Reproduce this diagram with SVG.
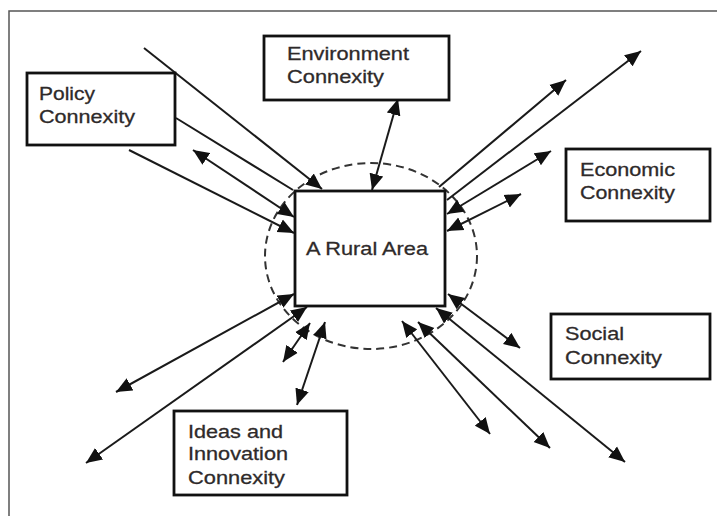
<svg xmlns="http://www.w3.org/2000/svg" width="717" height="516" viewBox="0 0 717 516">
<style>
.box{fill:#fff;stroke:#111;stroke-width:2.8}
.lbl{font-family:"Liberation Sans",Arial,sans-serif;font-size:19px;fill:#2e2a2a;stroke:#2e2a2a;stroke-width:0.3}
.c{stroke:#1a1a1a;stroke-width:2;fill:none}
.s{marker-end:url(#ah)}
.d{marker-end:url(#ah);marker-start:url(#ah)}
</style>
<defs>
<marker id="ah" markerUnits="userSpaceOnUse" markerWidth="17" markerHeight="15" refX="16" refY="7" orient="auto-start-reverse" viewBox="0 0 17 14">
<path d="M0,0 L16,7 L0,14 Z" fill="#111"/>
</marker>
</defs>
<rect width="717" height="516" fill="#fff"/>
<rect x="9" y="11" width="730" height="530" fill="none" stroke="#555" stroke-width="1.5"/>
<ellipse cx="371" cy="256" rx="106" ry="93" fill="none" stroke="#333" stroke-width="2" stroke-dasharray="8 5"/>
<g id="connectors">
<line class="c s" x1="144" y1="48" x2="322" y2="189"/>
<line class="c" x1="176" y1="118" x2="293" y2="190"/>
<line class="c d" x1="193" y1="150" x2="294" y2="217"/>
<line class="c s" x1="129" y1="150" x2="294" y2="233"/>
<line class="c d" x1="398" y1="99" x2="372" y2="190"/>
<line class="c s" x1="439" y1="187" x2="566" y2="80"/>
<line class="c s" x1="447" y1="200" x2="641" y2="51"/>
<line class="c d" x1="447" y1="214" x2="551" y2="151"/>
<line class="c d" x1="447" y1="231" x2="521" y2="194"/>
<line class="c d" x1="448" y1="294" x2="520" y2="348"/>
<line class="c d" x1="436" y1="308" x2="625" y2="462"/>
<line class="c d" x1="418" y1="322" x2="550" y2="448"/>
<line class="c d" x1="402" y1="321" x2="490" y2="434"/>
<line class="c d" x1="294" y1="294" x2="116" y2="392"/>
<line class="c d" x1="307" y1="307" x2="86" y2="463"/>
<line class="c d" x1="310" y1="323" x2="283" y2="362"/>
<line class="c d" x1="325" y1="322" x2="297" y2="405"/>
</g>
<g id="rural">
<rect class="box" x="295" y="191" width="150" height="115"/>
<text class="lbl" x="306" y="255" textLength="122" lengthAdjust="spacingAndGlyphs">A Rural Area</text>
</g>
<g id="policy">
<rect class="box" x="27" y="73" width="148" height="72"/>
<text class="lbl" x="39" y="100" textLength="56" lengthAdjust="spacingAndGlyphs">Policy</text>
<text class="lbl" x="39" y="123" textLength="96" lengthAdjust="spacingAndGlyphs">Connexity</text>
</g>
<g id="environment">
<rect class="box" x="264" y="36" width="185" height="64"/>
<text class="lbl" x="287" y="60" textLength="122" lengthAdjust="spacingAndGlyphs">Environment</text>
<text class="lbl" x="287" y="83" textLength="97" lengthAdjust="spacingAndGlyphs">Connexity</text>
</g>
<g id="economic">
<rect class="box" x="566" y="149" width="144" height="72"/>
<text class="lbl" x="580" y="176" textLength="95" lengthAdjust="spacingAndGlyphs">Economic</text>
<text class="lbl" x="580" y="199" textLength="95" lengthAdjust="spacingAndGlyphs">Connexity</text>
</g>
<g id="social">
<rect class="box" x="551" y="314" width="159" height="65"/>
<text class="lbl" x="565" y="340" textLength="59" lengthAdjust="spacingAndGlyphs">Social</text>
<text class="lbl" x="565" y="364" textLength="97" lengthAdjust="spacingAndGlyphs">Connexity</text>
</g>
<g id="ideas">
<rect class="box" x="174" y="411" width="173" height="84"/>
<text class="lbl" x="188" y="438" textLength="95" lengthAdjust="spacingAndGlyphs">Ideas and</text>
<text class="lbl" x="188" y="460" textLength="100" lengthAdjust="spacingAndGlyphs">Innovation</text>
<text class="lbl" x="188" y="484" textLength="97" lengthAdjust="spacingAndGlyphs">Connexity</text>
</g>
</svg>
